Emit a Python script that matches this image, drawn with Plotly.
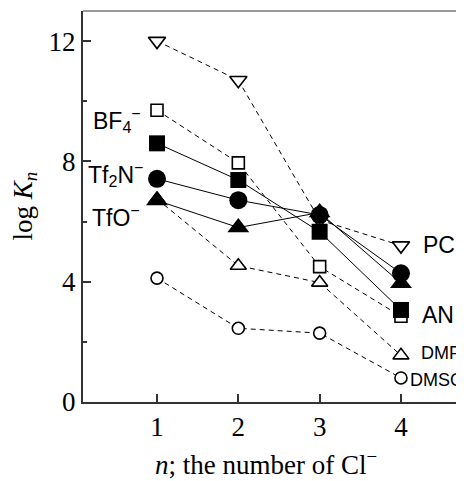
import plotly.graph_objects as go

n = [1, 2, 3, 4]
pc = [12.0, 10.7, 6.05, 5.2]
an_open = [9.7, 7.95, 4.5, 2.85]
an_bf4 = [8.6, 7.38, 5.66, 3.06]
an_tf2n = [7.42, 6.71, 6.22, 4.28]
an_tfo = [6.7, 5.8, 6.3, 3.95]
dmf = [6.75, 4.53, 3.97, 1.55]
dmso = [4.12, 2.45, 2.29, 0.8]

x_ticks = [1, 2, 3, 4]
y_ticks = [0, 4, 8, 12]
y_minor = [2, 6, 10]

SERIF = "Liberation Serif, Times New Roman, serif"
SANS = "Liberation Sans, Arial, sans-serif"
DASH = "5px,4px"

XR = [0.09, 4.775]
YR = [0, 13]

fig = go.Figure()

def add(y, symbol, size, filled, dashed):
    fig.add_trace(go.Scatter(
        x=n, y=y, mode="lines+markers",
        line=dict(color="black", width=1, dash=DASH if dashed else "solid"),
        marker=dict(symbol=symbol, size=size,
                    color="black" if filled else "white",
                    line=dict(color="black", width=0 if filled else 1.6)),
        showlegend=False, hoverinfo="skip"))

add(dmso, "circle", 12, False, True)
add(dmf, "triangle-up", 14, False, True)
add(an_open, "square", 12, False, True)
add(pc, "triangle-down", 15, False, True)
add(an_bf4, "square", 16, True, False)
add(an_tf2n, "circle", 18, True, False)
add(an_tfo, "triangle-up", 19, True, False)

# page offset (body margin) of 8px
OFF = 8
PL, PT, PB, PR = 83, 11, 402, 464  # plot area in screen pixels

ann = []
def dx(px):
    return XR[0] + (px - PL) / (PR - PL) * (XR[1] - XR[0])
def dy(py):
    return (PB - py) / (PB - PT) * (YR[1] - YR[0])

def label(text, px, py, size, family=SANS):
    ann.append(dict(text=text, x=dx(px), y=dy(py), xref="x", yref="y",
                    showarrow=False, xanchor="left", yanchor="middle",
                    font=dict(family=family, size=size, color="black")))

label("BF<sub>4</sub><sup>−</sup>", 91, 120, 23)
label("Tf<sub>2</sub>N<sup>−</sup>", 86, 174, 23)
label("TfO<sup>−</sup>", 90, 216, 23)
label("PC", 421, 245, 23)
label("AN", 420, 315, 23)
label("DMF", 419, 353, 18)
label("DMSO", 408, 380, 18)

ann.append(dict(text="log <i>K<sub>n</sub></i>", x=0, y=0.5, xref="paper", yref="paper",
                xanchor="center", yanchor="middle", xshift=-59, textangle=-90,
                showarrow=False, font=dict(family=SERIF, size=27, color="black")))
ann.append(dict(text="<i>n</i>; the number of Cl<sup>−</sup>", x=0.5, y=0, xref="paper", yref="paper",
                xanchor="center", yanchor="middle", xshift=-8, yshift=-61,
                showarrow=False, font=dict(family=SERIF, size=27, color="black")))

fig.update_layout(
    width=464 - OFF, height=481 - OFF,
    margin=dict(l=PL - OFF, r=0, t=PT - OFF, b=481 - PB, pad=0),
    plot_bgcolor="white", paper_bgcolor="white",
    annotations=ann,
    shapes=[dict(type="line", xref="paper", yref="paper", x0=0, x1=1, y0=1, y1=1,
                 line=dict(color="#999999", width=2))],
)
fig.update_xaxes(range=XR, tickvals=x_ticks, ticktext=[str(v) for v in x_ticks],
                 ticks="inside", ticklen=8, tickwidth=1.5, tickcolor="#333333",
                 showline=True, linecolor="#333333", linewidth=2, showgrid=False, zeroline=False,
                 tickfont=dict(family=SERIF, size=27, color="black"))
fig.update_yaxes(range=YR, tickvals=y_ticks, ticktext=[str(v) for v in y_ticks],
                 ticks="inside", ticklen=8, tickwidth=1.5, tickcolor="#333333",
                 minor=dict(tickvals=y_minor, ticks="inside", ticklen=4, tickwidth=1.5, tickcolor="#333333"),
                 showline=True, linecolor="#333333", linewidth=2, showgrid=False, zeroline=False,
                 tickfont=dict(family=SERIF, size=27, color="black"))

fig.write_html("out.html")
